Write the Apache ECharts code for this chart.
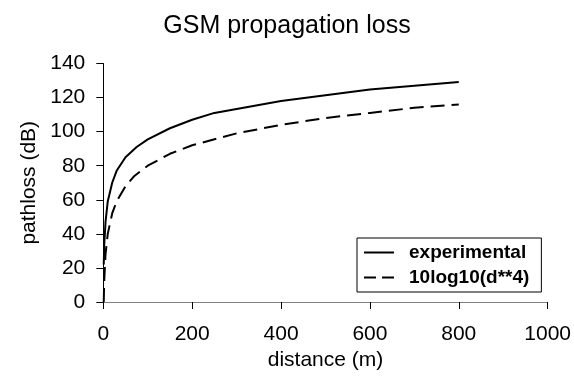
<!DOCTYPE html>
<html><head><meta charset="utf-8">
<script src="https://cdn.jsdelivr.net/npm/echarts@6/dist/echarts.min.js"></script>
<style>html,body{margin:0;padding:0;background:#fff}#c{width:574px;height:377px}</style>
</head><body><div id="c"></div>
<script>
const expDist = [1, 2, 5, 10, 20, 30, 50, 75, 100, 150, 200, 250, 400, 600, 800];
const expLoss = [22, 33, 47, 59, 70, 77, 85, 91, 95.5, 102, 107, 111, 118, 124.8, 129.2];
const modelDist = [1, 2, 5, 10, 20, 30, 50, 70, 100, 150, 200, 300, 400, 500, 600, 700, 800];
const modelLoss = [0, 12, 28, 40, 52, 59, 68, 74, 80, 87, 92, 99, 104, 108, 111, 114, 116];
const xTicks = [0, 200, 400, 600, 800, 1000];
const yTicks = [0, 20, 40, 60, 80, 100, 120, 140];
const seriesNames = ['experimental', '10log10(d**4)'];

const F = 'Liberation Sans, Arial, sans-serif';
const pairs = (xs, ys) => xs.map((x, i) => [x, ys[i]]);
const chart = echarts.init(document.getElementById('c'), null, {renderer: 'canvas'});
chart.setOption({
  animation: false,
  backgroundColor: '#fff',
  title: {text: 'GSM propagation loss', left: 'center', top: 9,
    textStyle: {fontFamily: F, fontSize: 25, fontWeight: 'normal', color: '#000'}},
  grid: {left: 103.3, right: 26, top: 63.5, bottom: 75},
  legend: {
    orient: 'vertical', left: 357, top: 238,
    data: [
      {name: seriesNames[0], icon: 'path://M0,0H30V2H0Z'},
      {name: seriesNames[1], icon: 'path://M0,0H12V2H0Z M18,0H30V2H18Z'}
    ],
    borderColor: '#000', borderWidth: 1, borderRadius: 0,
    padding: [5, 12, 5, 7], itemGap: 6, itemWidth: 30, itemHeight: 2,
    itemStyle: {color: '#000', borderWidth: 0},
    textStyle: {fontFamily: F, fontSize: 19, fontWeight: 'bold', color: '#000', padding: [0, 0, 0, 10]},
    backgroundColor: '#fff'
  },
  xAxis: [{
    type: 'value', min: xTicks[0], max: xTicks[xTicks.length - 1], interval: xTicks[1] - xTicks[0],
    name: 'distance (m)', nameLocation: 'middle', nameGap: 46,
    nameTextStyle: {fontFamily: F, fontSize: 21, color: '#000'},
    axisLine: {onZero: false, lineStyle: {color: '#000', width: 1}},
    axisTick: {show: true, length: 7, lineStyle: {color: '#000'}},
    axisLabel: {fontFamily: F, fontSize: 21, color: '#000', margin: 22, formatter: v => String(v)},
    splitLine: {show: false}
  }, {
    type: 'value', position: 'top', min: 0, max: 1000,
    axisLine: {show: true, lineStyle: {color: '#808080', width: 1}},
    axisTick: {show: false}, axisLabel: {show: false}, splitLine: {show: false}
  }],
  yAxis: {
    type: 'value', min: yTicks[0], max: yTicks[yTicks.length - 1], interval: yTicks[1] - yTicks[0],
    name: 'pathloss (dB)', nameLocation: 'middle', nameGap: 60,
    nameTextStyle: {fontFamily: F, fontSize: 21, color: '#000'},
    axisLine: {show: true, lineStyle: {color: '#000', width: 1}},
    axisTick: {show: true, length: 7, lineStyle: {color: '#000'}},
    axisLabel: {fontFamily: F, fontSize: 21, color: '#000', margin: 18},
    splitLine: {show: false}
  },
  series: [{
    name: seriesNames[0], type: 'line', data: pairs(expDist, expLoss), symbol: 'none',
    lineStyle: {color: '#000', width: 2, type: 'solid'}, itemStyle: {color: '#000'}
  }, {
    name: seriesNames[1], type: 'line', data: pairs(modelDist, modelLoss), symbol: 'none',
    lineStyle: {color: '#000', width: 2, type: [14, 7]}, itemStyle: {color: '#000'}
  }]
});
</script></body></html>
